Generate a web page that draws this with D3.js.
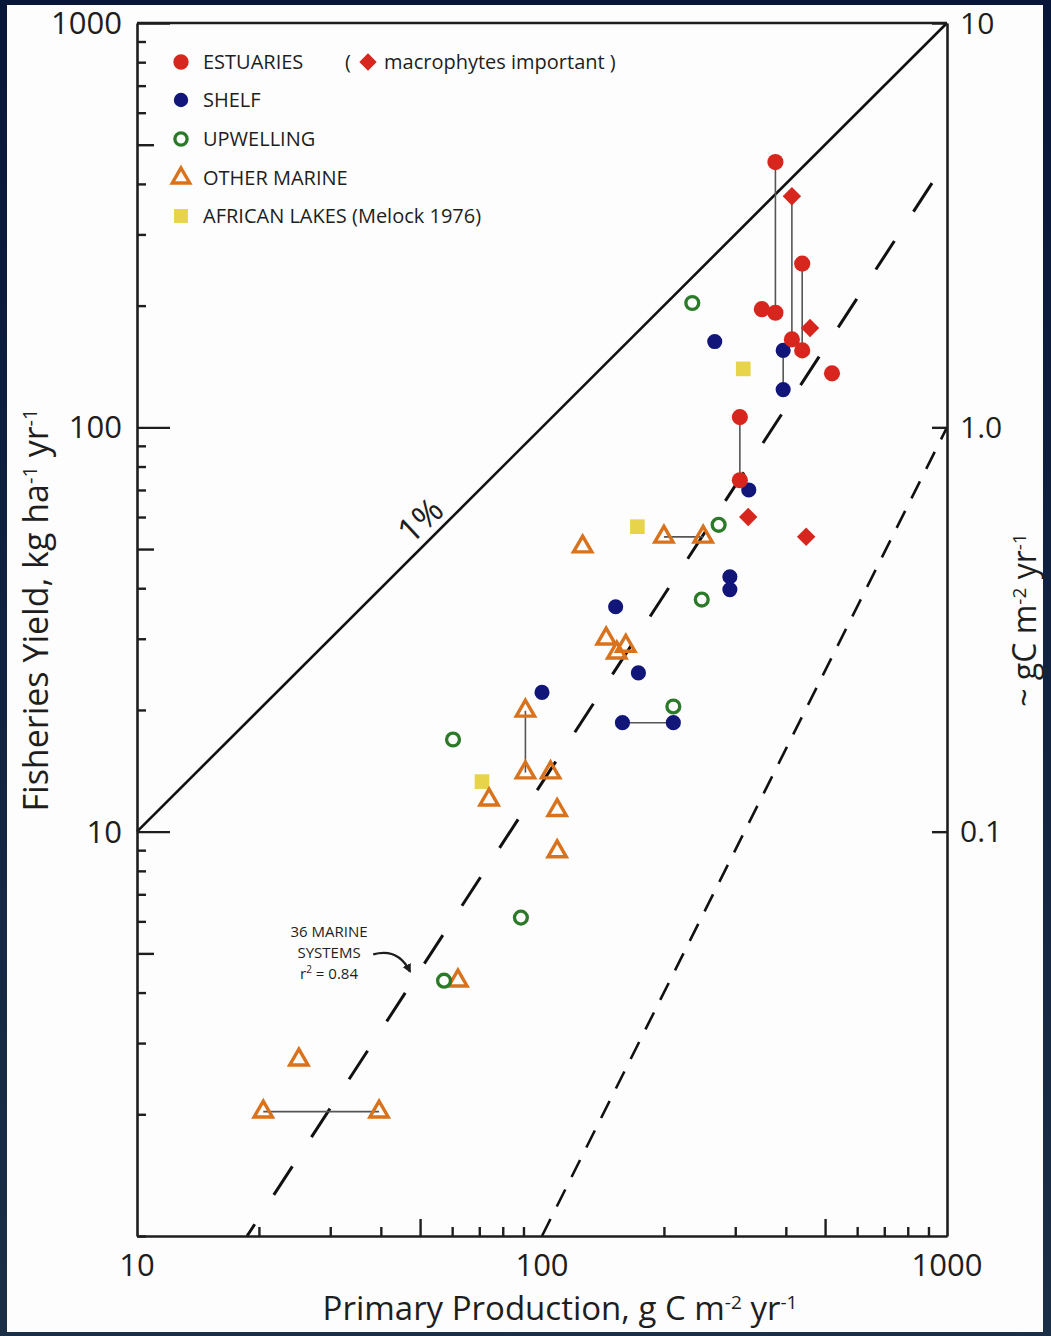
<!DOCTYPE html>
<html>
<head>
<meta charset="utf-8">
<script src="https://cdn.jsdelivr.net/npm/d3@7"></script>
<style>
body { margin: 0; background: #0c1b3a; }
svg { display: block; }
text { font-family: "Open Sans", "Noto Sans", sans-serif; fill: #1e1e1e; }
</style>
</head>
<body>
<svg id="chart" width="1051" height="1336"></svg>
<script>
// ---- data (x = primary production, y = fisheries yield)
const estuaryX = [377, 377, 349, 439, 414, 439, 520, 308, 308];
const estuaryY = [453, 192, 196, 254, 165, 155, 136, 106, 74];
const macroX = [414, 459, 323, 449];
const macroY = [373, 176, 60, 53.6];
const shelfX = [267, 394, 394, 324, 291, 291, 152, 173, 100, 158, 211];
const shelfY = [163, 155, 124, 70, 42.7, 39.7, 36, 24.7, 22.1, 18.6, 18.6];
const upwellX = [235, 273, 248, 211, 60.3, 88.7, 57.3];
const upwellY = [203, 57.4, 37.5, 20.4, 16.9, 6.13, 4.28];
const otherX = [126, 200, 250, 144, 161, 153, 91, 91, 105, 74, 109, 109, 62, 25.1, 20.5, 39.6];
const otherY = [50.7, 53.6, 53.6, 30, 28.8, 27.7, 19.9, 14, 14, 12, 11.3, 8.93, 4.28, 2.73, 2.03, 2.03];
const lakeX = [314, 172, 71.1];
const lakeY = [139.5, 56.8, 13.3];

// pairs of points joined by a thin line
const links = [
  ["est", 0, "est", 1], ["mac", 0, "est", 4], ["est", 3, "est", 5], ["est", 7, "est", 8],
  ["shelf", 1, "shelf", 2], ["shelf", 9, "shelf", 10],
  ["other", 1, "other", 2], ["other", 6, "other", 7], ["other", 14, "other", 15]
];

// reference lines
const onePctLine = [[10, 10], [1000, 1000]];
const regressLine = [[18.7, 1], [1000, 458]];
const lowerLine = [[100, 1], [1000, 100]];

// axis labels
const xLabelValues = [10, 100, 1000];
const xLabels = ["10", "100", "1000"];
const yLabelValues = [10, 100, 1000];
const yLabels = ["10", "100", "1000"];
const rightLabelValues = [10, 1, 0.1];
const rightLabels = ["10", "1.0", "0.1"];

const legendNames = ["ESTUARIES", "SHELF", "UPWELLING", "OTHER MARINE", "AFRICAN LAKES (Melock 1976)"];

// annotation anchor (data coords)
const noteAt = [29.8, 5.02];
const noteArrow = [[38.3, 4.97], [44.1, 5.17], [47.2, 4.51]];
const pctLabelAt = [50, 59];

const svg = d3.select("#chart");
const W = +svg.attr("width"), H = +svg.attr("height");

const defs = svg.append("defs");
const grad = defs.append("linearGradient").attr("id", "bg").attr("x1", 0).attr("y1", 0).attr("x2", 0).attr("y2", 1);
grad.append("stop").attr("offset", "0%").attr("stop-color", "#08163a");
grad.append("stop").attr("offset", "100%").attr("stop-color", "#1b2f46");
defs.append("marker").attr("id", "arrowhead").attr("viewBox", "0 0 10 10")
  .attr("refX", 8).attr("refY", 5).attr("markerWidth", 9).attr("markerHeight", 9)
  .attr("orient", "auto").attr("markerUnits", "userSpaceOnUse")
  .append("path").attr("d", "M0,0 L10,5 L0,10 z").attr("fill", "#1e1e1e");

svg.append("rect").attr("width", W).attr("height", H).attr("fill", "url(#bg)");
svg.append("rect").attr("x", 7).attr("y", 5).attr("width", 1036).attr("height", 1327).attr("fill", "#fdfdfd");

const x = d3.scaleLog().domain([10, 1000]).range([137, 947]);
const y = d3.scaleLog().domain([1, 1000]).range([1236, 23]);
const yRight = d3.scaleLog().domain([0.01, 10]).range([1236, 23]);

const line = d3.line().x(d => x(d[0])).y(d => y(d[1]));

// reference lines
svg.append("path").attr("d", line(onePctLine)).attr("fill", "none")
  .attr("stroke", "#111").attr("stroke-width", 2.6);
svg.append("path").attr("d", line(regressLine)).attr("fill", "none")
  .attr("stroke", "#111").attr("stroke-width", 3).attr("stroke-dasharray", "34 35").attr("stroke-dashoffset", 20);
svg.append("path").attr("d", line(lowerLine)).attr("fill", "none")
  .attr("stroke", "#111").attr("stroke-width", 2.6).attr("stroke-dasharray", "19 14");

// axes
function minorTicks(lo, hi) {
  const t = [];
  for (let d = lo; d < hi; d *= 10) for (let k = 1; k < 10; k++) t.push(k * d);
  t.push(hi);
  return t;
}
const lead = d => Math.round(d / Math.pow(10, Math.floor(Math.log10(d) + 1e-9)));

const gl = svg.append("g").attr("transform", `translate(${x(10)},0)`)
  .call(d3.axisLeft(y).tickValues(minorTicks(1, 1000)).tickSize(-8).tickSizeOuter(0).tickFormat(""));
gl.selectAll(".tick line").attr("x2", d => yLabelValues.includes(d) ? 33 : (lead(d) === 5 ? 17 : 9));

const gb = svg.append("g").attr("transform", `translate(0,${y(1)})`)
  .call(d3.axisBottom(x).tickValues(minorTicks(10, 1000).filter(d => !xLabelValues.includes(d)))
    .tickSize(-8).tickSizeOuter(0).tickFormat(""));
gb.selectAll(".tick line").attr("y2", d => lead(d) === 5 ? -17 : -9);

const gr = svg.append("g").attr("transform", `translate(${x(1000)},0)`)
  .call(d3.axisRight(yRight).tickValues(rightLabelValues).tickSize(-15).tickSizeOuter(0).tickFormat(""));

svg.append("line").attr("x1", x(10)).attr("x2", x(1000)).attr("y1", y(1000)).attr("y2", y(1000));
[gl, gb, gr].forEach(g => {
  g.selectAll("path.domain").attr("stroke", "#1e1e1e").attr("stroke-width", 2.6);
  g.selectAll(".tick line").attr("stroke", "#1e1e1e").attr("stroke-width", 2.4);
});
svg.selectAll(":scope > line").attr("stroke", "#1e1e1e").attr("stroke-width", 2.6);

// tick labels
svg.append("g").selectAll("text").data(yLabelValues).join("text")
  .attr("x", 122).attr("y", d => y(d)).attr("dy", "0.36em")
  .attr("text-anchor", "end").style("font-size", "31px")
  .text((d, i) => yLabels[i]);
svg.append("g").selectAll("text").data(xLabelValues).join("text")
  .attr("x", d => x(d)).attr("y", 1276)
  .attr("text-anchor", "middle").style("font-size", "31px")
  .text((d, i) => xLabels[i]);
svg.append("g").selectAll("text").data(rightLabelValues).join("text")
  .attr("x", 960).attr("y", d => yRight(d)).attr("dy", "0.36em")
  .attr("text-anchor", "start").style("font-size", "30px")
  .text((d, i) => rightLabels[i]);

// axis titles
const xt = svg.append("text").attr("x", 560).attr("y", 1320).attr("text-anchor", "middle").style("font-size", "33px");
xt.append("tspan").text("Primary Production, g C m");
xt.append("tspan").attr("dy", -11).style("font-size", "19px").text("-2");
xt.append("tspan").attr("dy", 11).text(" yr");
xt.append("tspan").attr("dy", -11).style("font-size", "19px").text("-1");

const yt = svg.append("text").attr("transform", "translate(48,610) rotate(-90)")
  .attr("text-anchor", "middle").style("font-size", "34px");
yt.append("tspan").text("Fisheries Yield, kg ha");
yt.append("tspan").attr("dy", -11).style("font-size", "20px").text("-1");
yt.append("tspan").attr("dy", 11).text(" yr");
yt.append("tspan").attr("dy", -11).style("font-size", "20px").text("-1");

const rt = svg.append("text").attr("transform", "translate(1036,620) rotate(-90)")
  .attr("text-anchor", "middle").style("font-size", "32px");
rt.append("tspan").text("~ gC  m");
rt.append("tspan").attr("dy", -10).style("font-size", "19px").text("-2");
rt.append("tspan").attr("dy", 10).text(" yr");
rt.append("tspan").attr("dy", -10).style("font-size", "19px").text("-1");

// connecting lines
const series = {
  est: estuaryX.map((v, i) => [v, estuaryY[i]]),
  mac: macroX.map((v, i) => [v, macroY[i]]),
  shelf: shelfX.map((v, i) => [v, shelfY[i]]),
  upwell: upwellX.map((v, i) => [v, upwellY[i]]),
  other: otherX.map((v, i) => [v, otherY[i]]),
  lake: lakeX.map((v, i) => [v, lakeY[i]])
};
svg.append("g").selectAll("line").data(links).join("line")
  .attr("x1", d => x(series[d[0]][d[1]][0])).attr("y1", d => y(series[d[0]][d[1]][1]))
  .attr("x2", d => x(series[d[2]][d[3]][0])).attr("y2", d => y(series[d[2]][d[3]][1]))
  .attr("stroke", "#555").attr("stroke-width", 1.6);

// markers
const styles = {
  est: { type: d3.symbolCircle, size: 205, fill: "#d7261e", stroke: "none", sw: 0, rot: 0 },
  mac: { type: d3.symbolSquare, size: 170, fill: "#d7261e", stroke: "none", sw: 0, rot: 45 },
  shelf: { type: d3.symbolCircle, size: 180, fill: "#121679", stroke: "none", sw: 0, rot: 0 },
  upwell: { type: d3.symbolCircle, size: 130, fill: "none", stroke: "#2b7a27", sw: 3.3, rot: 0 },
  other: { type: d3.symbolTriangle, size: 145, fill: "none", stroke: "#d9721c", sw: 3.4, rot: 0 },
  lake: { type: d3.symbolSquare, size: 215, fill: "#e7d44b", stroke: "none", sw: 0, rot: 0 }
};
const drawOrder = ["lake", "other", "upwell", "shelf", "est", "mac"];
drawOrder.forEach(k => {
  const s = styles[k];
  svg.append("g").selectAll("path").data(series[k]).join("path")
    .attr("d", d3.symbol().type(s.type).size(s.size)())
    .attr("transform", d => `translate(${x(d[0])},${y(d[1])}) rotate(${s.rot})`)
    .attr("fill", s.fill).attr("stroke", s.stroke).attr("stroke-width", s.sw);
});

// legend
const legendKeys = ["est", "shelf", "upwell", "other", "lake"];
const legendRows = [62, 100, 139, 178, 216];
const lg = svg.append("g");
legendKeys.forEach((k, i) => {
  const s = styles[k];
  lg.append("path").attr("d", d3.symbol().type(s.type).size(s.size * 0.9)())
    .attr("transform", `translate(181,${legendRows[i]}) rotate(${s.rot})`)
    .attr("fill", s.fill).attr("stroke", s.stroke).attr("stroke-width", s.sw);
  lg.append("text").attr("x", 203).attr("y", legendRows[i]).attr("dy", "0.36em")
    .style("font-size", "20px").text(legendNames[i]);
});
lg.append("text").attr("x", 345).attr("y", legendRows[0]).attr("dy", "0.36em").style("font-size", "20px").text("(");
lg.append("path").attr("d", d3.symbol().type(styles.mac.type).size(150)())
  .attr("transform", `translate(368,${legendRows[0]}) rotate(45)`).attr("fill", styles.mac.fill);
lg.append("text").attr("x", 384).attr("y", legendRows[0]).attr("dy", "0.36em").style("font-size", "20px")
  .text("macrophytes important )");

// "1%" label
svg.append("text").attr("transform", `translate(${x(pctLabelAt[0])},${y(pctLabelAt[1])}) rotate(-43)`)
  .attr("text-anchor", "middle").attr("dy", "0.36em").style("font-size", "34px").text("1%");

// regression note
const note = svg.append("text").attr("x", x(noteAt[0])).attr("y", y(noteAt[1]))
  .attr("text-anchor", "middle").style("font-size", "15px");
note.append("tspan").attr("x", x(noteAt[0])).attr("dy", -16).text("36 MARINE");
note.append("tspan").attr("x", x(noteAt[0])).attr("dy", 21).text("SYSTEMS");
note.append("tspan").attr("x", x(noteAt[0])).attr("dy", 21).text("r");
note.append("tspan").attr("dy", -6).style("font-size", "10px").text("2");
note.append("tspan").attr("dy", 6).text(" = 0.84");
svg.append("path")
  .attr("d", `M${x(noteArrow[0][0])},${y(noteArrow[0][1])} Q${x(noteArrow[1][0])},${y(noteArrow[1][1])} ${x(noteArrow[2][0])},${y(noteArrow[2][1])}`)
  .attr("fill", "none").attr("stroke", "#1e1e1e").attr("stroke-width", 2.4)
  .attr("marker-end", "url(#arrowhead)");
</script>
</body>
</html>
